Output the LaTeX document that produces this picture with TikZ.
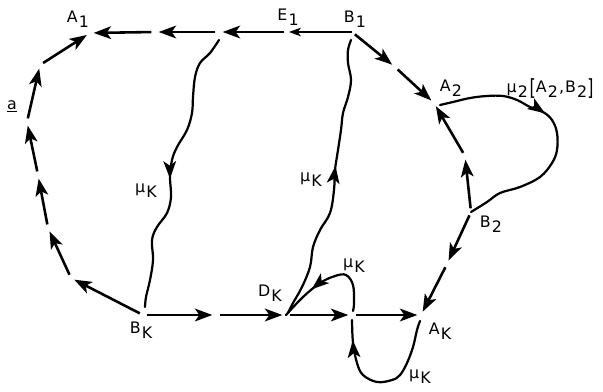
\documentclass[tikz,border=0pt]{standalone}
\usepackage{fontspec}
\usepackage{graphicx}
\setmainfont{DejaVu Sans}
\usetikzlibrary{arrows.meta, calc, decorations.markings}

\newcommand{\sbs}[1]{\kern1pt\raisebox{-0.6ex}{#1}}
\newcommand{\tallbr}[1]{\raisebox{-0.4ex}{\scalebox{1}[1.4]{#1}}}

\begin{document}
\begin{tikzpicture}[
  x=0.3mm, y=-0.3mm,
  seg/.style={-{Stealth[length=5.2mm, width=3.8mm, inset=1.3mm]}, line width=2.2pt, shorten <=1.1mm, shorten >=1.1mm},
  thinseg/.style={-{Stealth[length=3.6mm, width=2.6mm, inset=1mm]}, line width=1pt, shorten >=0.3mm},
  wave/.style={line width=1.9pt, line cap=round},
  midarr/.style={postaction={decorate}, decoration={markings, mark=at position #1 with {\arrow{Stealth[length=5.2mm, width=3.8mm, inset=1.3mm]}}}},
  lbl/.style={font=\fontsize{13.5}{15}\selectfont, inner sep=0pt}
]
\useasboundingbox (0,0) rectangle (603,391);

% junction points
\coordinate (a1) at (90,33);
\coordinate (p2) at (155,32);
\coordinate (p1) at (219,32);
\coordinate (e1) at (288,32);
\coordinate (b1) at (352,32);
\coordinate (q1) at (395,67);
\coordinate (a2) at (434,103);
\coordinate (q2) at (465,156);
\coordinate (b2) at (471,212);
\coordinate (q3) at (447,264);
\coordinate (ak) at (421,315);
\coordinate (m) at (352,315);
\coordinate (dk) at (286,315);
\coordinate (r1) at (216,315);
\coordinate (bk) at (143,315);
\coordinate (l1) at (71,278);
\coordinate (l2) at (48,228);
\coordinate (l3) at (38,175);
\coordinate (l4) at (27,122);
\coordinate (l5) at (40,65);

% ends of the curved paths
\coordinate (w1s) at (219,40);
\coordinate (w1e) at (145,307);
\coordinate (w2s) at (288,313);
\coordinate (w2e) at (351,40);
\coordinate (a2s) at (440,105);
\coordinate (akl) at (420,321);
\coordinate (mlo) at (352,320);
\coordinate (mup) at (353,311);

% labels
\node[lbl] (a1lbl) at (78,19) {A\sbs{1}};
\node[lbl] (e1lbl) at (288,17) {E\sbs{1}};
\node[lbl] (b1lbl) at (355,19) {B\sbs{1}};
\node[lbl] (a2lbl) at (451,88) {A\sbs{2}};
\node[lbl] (mu2lbl) at (550,89) {μ\sbs{2}\kern1.5pt\tallbr{[}A\sbs{2}\kern1pt,\kern1pt B\sbs{2}\tallbr{]}};
\node[lbl] (b2lbl) at (491,224) {B\sbs{2}};
\node[lbl] (aklbl) at (440,331) {A\sbs{K}};
\node[lbl] (dklbl) at (270,293) {D\sbs{K}};
\node[lbl] (bklbl) at (141,330) {B\sbs{K}};
\node[lbl] (mu1lbl) at (146,191) {μ\sbs{K}};
\node[lbl] (mu2klbl) at (311,180) {μ\sbs{K}};
\node[lbl] (mu3lbl) at (354,266) {μ\sbs{K}};
\node[lbl] (mu4lbl) at (420,377) {μ\sbs{K}};
\node[lbl] (albl) at (12,106) {\underline{a}};

% straight arrow chains
\draw[thinseg] (b1) -- (e1);
\draw[seg] (e1) -- (p1);
\draw[seg] (p1) -- (p2);
\draw[seg] (p2) -- (a1);
\draw[seg] (b1) -- (q1);
\draw[seg] (q1) -- (a2);
\draw[seg] (b2) -- (q2);
\draw[seg] (q2) -- (a2);
\draw[seg] (b2) -- (q3);
\draw[seg] (q3) -- (ak);
\draw[seg] (bk) -- (r1);
\draw[seg] (r1) -- (dk);
\draw[seg] (dk) -- (m);
\draw[seg] (m) -- (ak);
\draw[seg] (bk) -- (l1);
\draw[seg] (l1) -- (l2);
\draw[seg] (l2) -- (l3);
\draw[seg] (l3) -- (l4);
\draw[seg] (l4) -- (l5);
\draw[seg] (l5) -- (a1);

% wavy paths
\draw[wave, midarr=0.53] plot[smooth, tension=0.6] coordinates {(w1s) (210,53) (200,63) (195,77) (193,97) (192,113) (187,130) (177,147) (172,160) (170,177) (171,197) (167,213) (157,227) (152,240) (153,260) (150,280) (146,297) (w1e)};
\draw[wave, midarr=0.55] plot[smooth, tension=0.6] coordinates {(w2s) (293,303) (302,287) (310,267) (313,247) (320,230) (330,213) (334,190) (335,170) (338,150) (341,130) (343,113) (348,97) (351,80) (348,63) (348,50) (w2e)};
\draw[wave, midarr=0.68] plot[smooth, tension=0.6] coordinates {(mup) (354,303) (353,285) (346,275) (335,276) (320,283) (303,297) (dk)};
\draw[wave, midarr=0.87] plot[smooth, tension=0.6] coordinates {(akl) (417,330) (413,347) (407,363) (400,375) (392,380) (377,382) (363,375) (357,363) (353,343) (mlo)};
\draw[wave, midarr=0.42] plot[smooth, tension=0.6] coordinates {(a2s) (453,102) (470,98) (487,96) (503,96) (517,100) (530,107) (543,112) (552,120) (557,133) (557,150) (552,163) (540,177) (520,187) (500,193) (487,202) (b2)};
\end{tikzpicture}
\end{document}
